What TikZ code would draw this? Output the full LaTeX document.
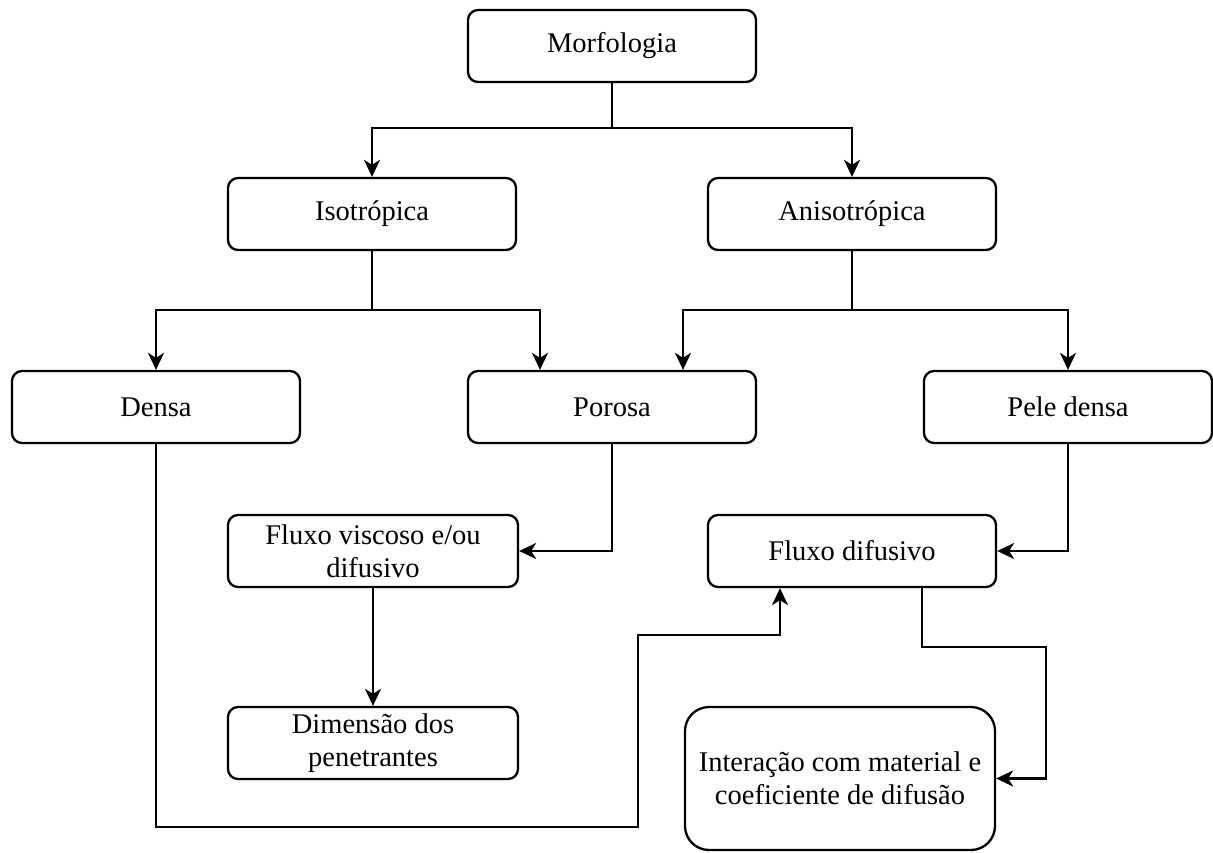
\documentclass[tikz,border=0pt]{standalone}
\usepackage{fontspec}
\setmainfont{Liberation Serif}
\usetikzlibrary{arrows.meta}
\begin{document}
\begin{tikzpicture}[x=1pt,y=-1pt,
  box/.style={draw, line width=2.3pt, rounded corners=10pt, minimum width=288pt,
    minimum height=72pt, align=center, inner sep=2pt,
    font=\fontsize{28.5}{33}\selectfont},
  link/.style={line width=2.3pt, -{Stealth[length=17pt,width=16pt,inset=5pt]}},
  plain/.style={line width=2.3pt}]
\useasboundingbox (0,0) rectangle (1213,852);
% boxes
\node[box] (morf)  at (612,46)   {Morfologia};
\node[box] (iso)   at (372,214)  {Isotrópica};
\node[box] (aniso) at (852,214)  {Anisotrópica};
\node[box] (densa) at (156,407)  {Densa};
\node[box] (poros) at (612,407)  {Porosa};
\node[box] (pele)  at (1068,407) {Pele densa};
\node[box, minimum width=290pt] (fluxv) at (373,551) {Fluxo viscoso e/ou\\difusivo};
\node[box] (fluxd) at (852,551)  {Fluxo difusivo};
\node[box, minimum width=290pt] (dim) at (373,743) {Dimensão dos\\penetrantes};
\node[box, minimum width=310pt, minimum height=143pt, rounded corners=24pt] (inter) at (840,778.5)
  {Interação com material e\\coeficiente de difusão};
% junction points
\coordinate (j0) at (612,128);
\coordinate (j1) at (372,310);
\coordinate (j2) at (852,310);
% connectors
\draw[plain] (morf.south) -- (j0);
\draw[link] (j0) -| (iso.north);
\draw[link] (j0) -| (aniso.north);
\draw[plain] (iso.south) -- (j1);
\draw[link] (j1) -| (densa.north);
\draw[link] (j1) -| ([xshift=-72pt]poros.north);
\draw[plain] (aniso.south) -- (j2);
\draw[link] (j2) -| ([xshift=71pt]poros.north);
\draw[link] (j2) -| (pele.north);
\draw[link] (poros.south) |- (fluxv.east);
\draw[link] (pele.south) |- (fluxd.east);
\draw[link] (fluxv.south) -- (dim.north);
\draw[link] (densa.south) -- (156,827) -- (638,827) -- (638,635) -| ([xshift=-72pt]fluxd.south);
\draw[link] ([xshift=70pt]fluxd.south) -- (922,647) -- (1046,647) |- (inter.east);
\end{tikzpicture}
\end{document}
